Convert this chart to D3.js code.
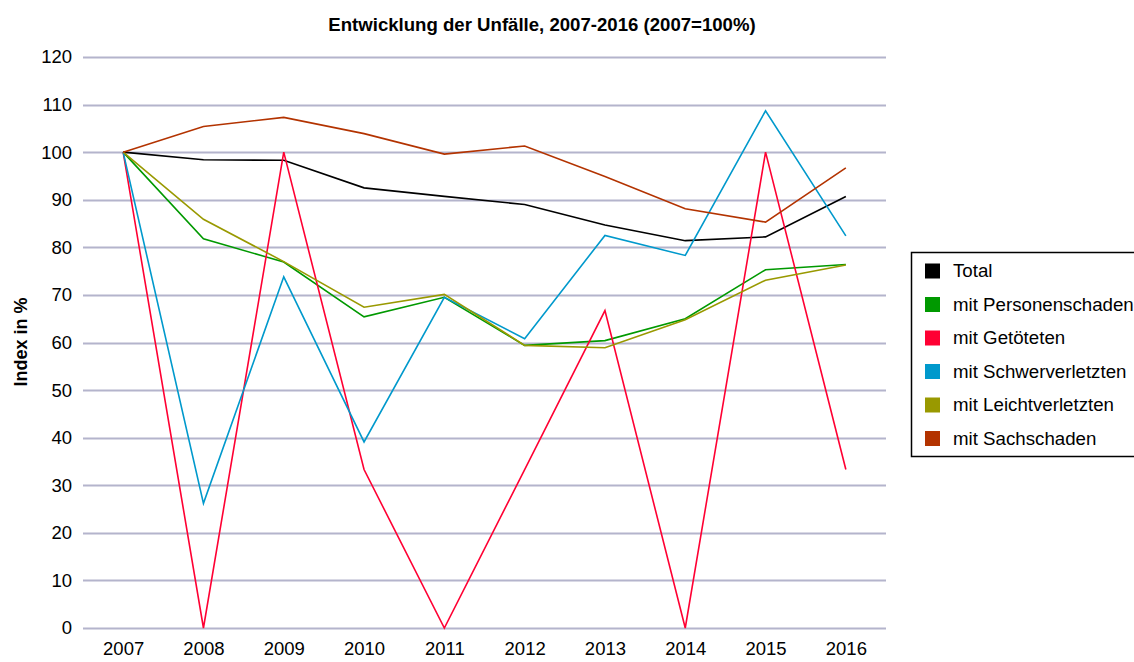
<!DOCTYPE html>
<html>
<head>
<meta charset="utf-8">
<script src="https://cdn.jsdelivr.net/npm/d3@7"></script>
<style>
  body { margin: 0; background: #fff; }
  svg { display: block; font-family: "Liberation Sans", Arial, sans-serif; }
</style>
</head>
<body>
<div id="chart"></div>
<script>
// data
var years = ["2007", "2008", "2009", "2010", "2011", "2012", "2013", "2014", "2015", "2016"];
var seriesNames = ["Total", "mit Personenschaden", "mit Getöteten", "mit Schwerverletzten", "mit Leichtverletzten", "mit Sachschaden"];
var total = [100, 98.4, 98.3, 92.5, 90.7, 89.0, 84.7, 81.4, 82.2, 90.7];
var personenschaden = [100, 81.8, 76.9, 65.4, 69.5, 59.4, 60.4, 65.0, 75.3, 76.4];
var getoetete = [100, 0, 100, 33.3, 0, 33.3, 66.7, 0, 100, 33.3];
var schwerverletzte = [100, 26.2, 73.8, 39.1, 69.5, 60.8, 82.5, 78.3, 108.7, 82.4];
var leichtverletzte = [100, 85.9, 77.0, 67.4, 70.1, 59.4, 58.9, 64.8, 73.1, 76.3];
var sachschaden = [100, 105.4, 107.3, 103.9, 99.6, 101.3, 94.9, 88.1, 85.3, 96.7];
var yTicks = [0, 10, 20, 30, 40, 50, 60, 70, 80, 90, 100, 110, 120];

var colors = ["#000000", "#009900", "#ff0033", "#0099cc", "#999900", "#b33300"];
var allValues = [total, personenschaden, getoetete, schwerverletzte, leichtverletzte, sachschaden];

var W = 1134, H = 662;
var margin = { top: 57, left: 83, right: 248, bottom: 34 };

var svg = d3.select("#chart").append("svg")
    .attr("width", W)
    .attr("height", H);

var x = d3.scalePoint()
    .domain(years)
    .range([margin.left, W - margin.right])
    .padding(0.5);

var y = d3.scaleLinear()
    .domain([0, 120])
    .range([H - margin.bottom, margin.top]);

// grid lines
svg.append("g")
    .selectAll("line")
    .data(yTicks)
    .enter().append("line")
    .attr("x1", margin.left)
    .attr("x2", W - margin.right)
    .attr("y1", function (d) { return Math.round(y(d)) + 0.5; })
    .attr("y2", function (d) { return Math.round(y(d)) + 0.5; })
    .attr("stroke", "#b4b4cc")
    .attr("stroke-width", 2);

// y axis labels
var yAxis = svg.append("g")
    .attr("transform", "translate(" + margin.left + ",0)")
    .call(d3.axisLeft(y).tickValues(yTicks).tickSize(0).tickPadding(11));
yAxis.select(".domain").remove();
yAxis.selectAll("text")
    .attr("font-size", 18.5)
    .attr("font-family", "Liberation Sans, Arial, sans-serif")
    .attr("fill", "#000");

// x axis labels
var xAxis = svg.append("g")
    .attr("transform", "translate(0," + (H - margin.bottom) + ")")
    .call(d3.axisBottom(x).tickSize(0).tickPadding(14));
xAxis.select(".domain").remove();
xAxis.selectAll("text")
    .attr("font-size", 18.5)
    .attr("font-family", "Liberation Sans, Arial, sans-serif")
    .attr("fill", "#000");

// lines
var line = d3.line()
    .x(function (d, i) { return x(years[i]); })
    .y(function (d) { return y(d); });

svg.append("g")
    .selectAll("path")
    .data(allValues)
    .enter().append("path")
    .attr("d", line)
    .attr("fill", "none")
    .attr("stroke", function (d, i) { return colors[i]; })
    .attr("stroke-width", 1.6)
    .attr("stroke-linejoin", "miter");

// title
svg.append("text")
    .attr("x", 542)
    .attr("y", 31)
    .attr("text-anchor", "middle")
    .attr("font-size", 18.6)
    .attr("font-weight", "bold")
    .text("Entwicklung der Unfälle, 2007-2016 (2007=100%)");

// y axis title
svg.append("text")
    .attr("transform", "translate(27,342) rotate(-90)")
    .attr("text-anchor", "middle")
    .attr("font-size", 18)
    .attr("font-weight", "bold")
    .text("Index in %");

// legend
var legend = svg.append("g")
    .attr("transform", "translate(911,252)");

legend.append("rect")
    .attr("x", 0.5)
    .attr("y", 0.5)
    .attr("width", 260)
    .attr("height", 204)
    .attr("fill", "#fff")
    .attr("stroke", "#000")
    .attr("stroke-width", 1.5);

var item = legend.selectAll("g.item")
    .data(seriesNames)
    .enter().append("g")
    .attr("class", "item")
    .attr("transform", function (d, i) { return "translate(0," + (18.5 + i * 33.5) + ")"; });

item.append("rect")
    .attr("x", 14)
    .attr("y", -7)
    .attr("width", 15)
    .attr("height", 15)
    .attr("fill", function (d, i) { return colors[i]; });

item.append("text")
    .attr("x", 42)
    .attr("y", 6.5)
    .attr("font-size", 18.7)
    .text(function (d) { return d; });
</script>
</body>
</html>
